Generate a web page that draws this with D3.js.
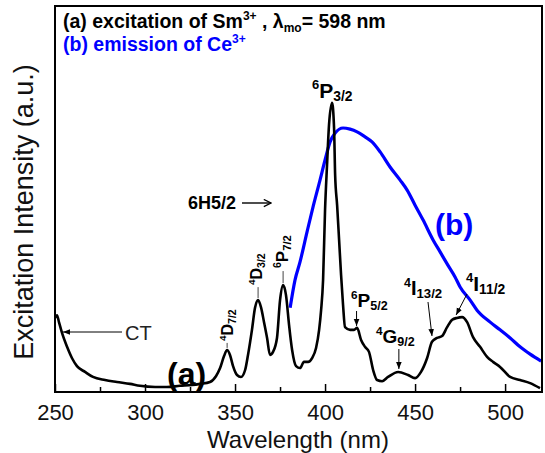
<!DOCTYPE html>
<html>
<head>
<meta charset="utf-8">
<script src="https://cdn.jsdelivr.net/npm/d3@7"></script>
<style>
  body { margin: 0; background: #fff; }
  svg { display: block; font-family: "Liberation Sans", Arial, sans-serif; }
</style>
</head>
<body>
<svg id="chart" width="545" height="453"></svg>
<script>
// (a) excitation of Sm3+ : wavelength (nm) / intensity (a.u.)
var excWl = [250.0, 251.1, 252.2, 253.9, 256.7, 259.4, 262.2, 266.7, 271.1, 277.8, 284.4, 291.7, 297.2, 305.6,
  312.2, 319.4, 326.1, 330.6, 336.1, 339.4, 341.7, 343.9, 345.6, 347.2, 348.9, 351.1, 353.3, 355.6, 357.2,
  359.4, 361.1, 362.8, 364.4, 366.1, 367.8, 369.4, 371.1, 373.3, 375.0, 376.7, 378.3, 380.0, 381.7, 383.9,
  386.1, 388.3, 390.6, 392.8, 395.0, 396.7, 397.8, 398.9, 400.0, 401.1, 402.2, 403.9, 405.0, 405.6, 406.7,
  407.8, 408.9, 410.0, 411.1, 413.9, 416.1, 417.8, 420.0, 422.2, 424.4, 426.7, 428.9, 431.7, 435.0, 440.6,
  446.1, 450.0, 453.3, 456.7, 459.4, 462.2, 465.0, 467.8, 470.6, 473.3, 476.1, 478.9, 482.2, 486.1, 490.0,
  493.3, 497.2, 502.8, 508.3, 513.9, 519.4];
var excInt = [19.2, 19.9, 18.1, 15.3, 11.7, 8.8, 6.7, 5.2, 3.9, 3.1, 2.6, 2.1, 1.6, 1.3,
  1.3, 1.6, 1.8, 2.1, 2.6, 4.1, 6.2, 9.3, 10.9, 9.6, 6.7, 4.4, 3.9, 5.7, 9.6,
  16.1, 21.8, 23.8, 22.0, 18.1, 14.0, 9.6, 10.4, 14.0, 23.8, 27.7, 25.1, 17.4, 10.9, 6.7,
  6.2, 7.8, 7.8, 8.8, 11.4, 16.1, 21.2, 29.0, 47.2, 58.8, 69.2, 74.9, 68.4, 56.2, 48.4,
  39.4, 30.3, 22.5, 16.8, 16.1, 16.1, 16.6, 13.5, 11.7, 10.4, 5.7, 3.1, 2.8, 3.9, 5.2,
  4.4, 3.6, 5.2, 8.8, 13.0, 14.0, 14.5, 16.8, 18.7, 19.2, 19.4, 18.1, 14.2, 11.7, 9.1,
  7.8, 6.5, 3.9, 3.1, 2.3, 1.0];

// (b) emission of Ce3+
var emWl = [380.6, 383.3, 386.1, 390.0, 393.3, 397.2, 400.0, 402.8, 405.6, 410.0, 413.9, 417.8, 422.2,
  426.1, 430.6, 436.1, 441.7, 445.6, 450.0, 454.4, 460.0, 463.9, 467.8, 472.2, 475.0, 480.6, 484.4,
  491.7, 497.2, 502.8, 508.3, 513.9, 520.0];
var emInt = [21.8, 29.0, 33.7, 41.5, 47.9, 54.9, 60.1, 64.8, 67.1, 68.4, 68.1, 67.4, 66.1,
  64.8, 62.2, 58.3, 54.9, 52.3, 48.4, 44.6, 39.4, 36.3, 33.2, 29.8, 27.2, 23.8, 21.2,
  18.1, 16.1, 14.0, 11.7, 9.8, 8.0];

var majorTicks = [250, 300, 350, 400, 450, 500];
var minorTicks = [275, 325, 375, 425, 475];

var svg = d3.select("#chart");
var x = d3.scaleLinear().domain([250, 520.5]).range([55, 542]);
var y = d3.scaleLinear().domain([0, 100]).range([392, 6]);

var defs = svg.append("defs");
defs.append("marker")
    .attr("id", "head")
    .attr("viewBox", "0 0 10 10")
    .attr("refX", 10).attr("refY", 5)
    .attr("markerWidth", 7).attr("markerHeight", 7)
    .attr("markerUnits", "userSpaceOnUse")
    .attr("orient", "auto")
  .append("path").attr("d", "M0,1L10,5L0,9Z").attr("fill", "#000");
defs.append("marker")
    .attr("id", "open")
    .attr("viewBox", "0 0 10 10")
    .attr("refX", 9).attr("refY", 5)
    .attr("markerWidth", 9).attr("markerHeight", 9)
    .attr("markerUnits", "userSpaceOnUse")
    .attr("orient", "auto")
  .append("path").attr("d", "M1,1L9,5L1,9").attr("fill", "none").attr("stroke", "#000").attr("stroke-width", 1.4);

// curves
var line = d3.line().x(function(d) { return x(d[0]); }).y(function(d) { return y(d[1]); }).curve(d3.curveMonotoneX);

svg.append("path")
    .datum(emWl.map(function(w, i) { return [w, emInt[i]]; }))
    .attr("d", line)
    .attr("fill", "none").attr("stroke", "#0000ff").attr("stroke-width", 3.2).attr("stroke-linejoin", "round");

svg.append("path")
    .datum(excWl.map(function(w, i) { return [w, excInt[i]]; }))
    .attr("d", line)
    .attr("fill", "none").attr("stroke", "#000").attr("stroke-width", 2.6).attr("stroke-linejoin", "round");

// frame + axes
svg.append("rect")
    .attr("x", 55).attr("y", 6).attr("width", 487).attr("height", 386)
    .attr("fill", "none").attr("stroke", "#000").attr("stroke-width", 2);

var xAxis = svg.append("g")
    .attr("transform", "translate(0,392)")
    .call(d3.axisBottom(x).tickValues(majorTicks).tickSizeInner(-8).tickSizeOuter(0).tickPadding(12));
xAxis.select(".domain").remove();
xAxis.selectAll("line").attr("stroke-width", 1.5);
xAxis.selectAll("text").attr("font-size", 22).attr("font-family", "Liberation Sans, Arial, sans-serif").attr("fill", "#111");

var xMinor = svg.append("g")
    .attr("transform", "translate(0,392)")
    .call(d3.axisBottom(x).tickValues(minorTicks).tickSizeInner(-5).tickSizeOuter(0).tickFormat(""));
xMinor.select(".domain").remove();
xMinor.selectAll("line").attr("stroke-width", 1.5);

svg.append("text")
    .attr("x", 298).attr("y", 448)
    .attr("text-anchor", "middle").attr("font-size", 24).attr("fill", "#111")
    .text("Wavelength (nm)");

svg.append("text")
    .attr("transform", "translate(33,212) rotate(-90)")
    .attr("text-anchor", "middle").attr("font-size", 27).attr("fill", "#111")
    .text("Excitation Intensity (a.u.)");

// legend
var l1 = svg.append("text").attr("x", 63).attr("y", 28).attr("font-size", 19.5).attr("font-weight", "bold");
l1.append("tspan").text("(a) excitation of Sm");
l1.append("tspan").attr("font-size", 12).attr("dy", -8).text("3+");
l1.append("tspan").attr("dy", 8).text(" , \u03bb");
l1.append("tspan").attr("font-size", 12).attr("dy", 4).text("mo");
l1.append("tspan").attr("dy", -4).text("= 598 nm");

var l2 = svg.append("text").attr("x", 63).attr("y", 51).attr("font-size", 19.5).attr("font-weight", "bold").attr("fill", "#0000ff");
l2.append("tspan").text("(b) emission of Ce");
l2.append("tspan").attr("font-size", 12).attr("dy", -8).text("3+");

svg.append("text").attr("x", 167).attr("y", 385).attr("font-size", 32).attr("font-weight", "bold").text("(a)");
svg.append("text").attr("x", 435).attr("y", 235).attr("font-size", 30).attr("font-weight", "bold").attr("fill", "#0000ff").text("(b)");

// level labels
function level(px, py, sup, base, sub, size, rot) {
  var t = svg.append("text")
      .attr("transform", "translate(" + px + "," + py + ")" + (rot ? " rotate(-90)" : ""))
      .attr("font-size", size).attr("font-weight", "bold");
  t.append("tspan").attr("font-size", size * 0.62).attr("dy", -size * 0.42).text(sup);
  t.append("tspan").attr("dy", size * 0.42).text(base);
  t.append("tspan").attr("font-size", size * 0.66).attr("dy", size * 0.16).text(sub);
}

function tick(wl, inten, from, to) {
  svg.append("line")
      .attr("x1", x(wl)).attr("x2", x(wl))
      .attr("y1", y(inten) - from).attr("y2", y(inten) - to)
      .attr("stroke", "#444").attr("stroke-width", 1);
}

function arrow(x1, y1, x2, y2) {
  svg.append("line")
      .attr("x1", x1).attr("y1", y1).attr("x2", x2).attr("y2", y2)
      .attr("stroke", "#000").attr("stroke-width", 1)
      .attr("marker-end", "url(#head)");
}

tick(345.6, 10.9, 2, 7);
level(233, 341, "4", "D", "7/2", 16, true);
tick(362.8, 23.8, 2, 13);
level(262, 285, "4", "D", "3/2", 16, true);
tick(376.7, 27.7, 2, 14);
level(288, 268, "6", "P", "7/2", 17, true);

level(312, 98, "6", "P", "3/2", 21, false);
level(351, 307, "6", "P", "5/2", 19, false);
arrow(x(417.5), 311, x(417.5), 326);
level(376, 343, "4", "G", "9/2", 19, false);
arrow(x(441), 349, x(441), 369);
level(404, 295, "4", "I", "13/2", 20, false);
arrow(428, 302, x(459.4), 336);
level(466, 291, "4", "I", "11/2", 21, false);
arrow(467, 294, x(472.8), 315);

// 6H5/2 and CT
svg.append("text").attr("x", 188).attr("y", 209).attr("font-size", 18).attr("font-weight", "bold").text("6H5/2");
svg.append("line").attr("x1", 242).attr("y1", 203).attr("x2", 271).attr("y2", 203)
    .attr("stroke", "#000").attr("stroke-width", 1.4).attr("marker-end", "url(#open)");

svg.append("text").attr("x", 125).attr("y", 340).attr("font-size", 20).attr("fill", "#222").text("CT");
arrow(122, 332, 63, 332);
</script>
</body>
</html>
